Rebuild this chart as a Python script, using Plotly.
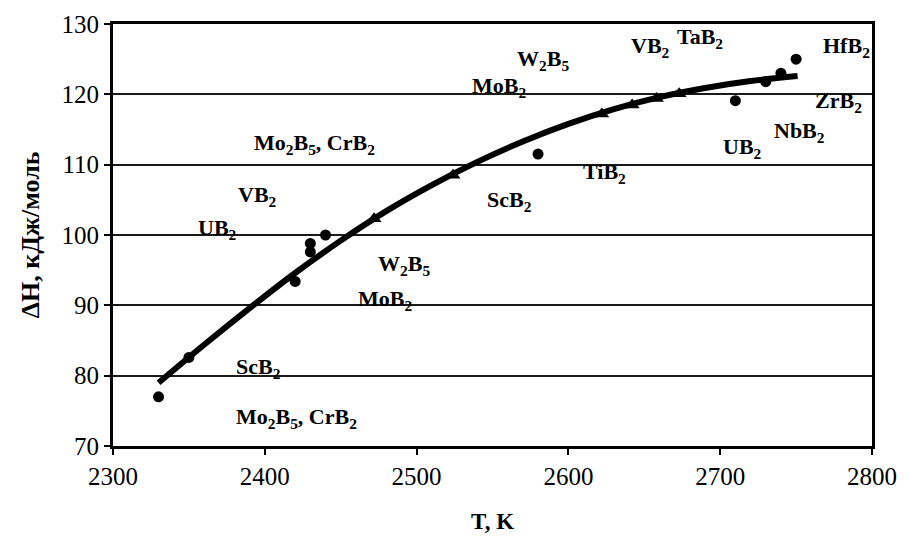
import plotly.graph_objects as go

# measured data points (circles)
t_points = [2330, 2350, 2420, 2430, 2430, 2440, 2580, 2710, 2730, 2740, 2750]
dh_points = [77.0, 82.6, 93.4, 97.6, 98.8, 100.0, 111.5, 119.1, 121.8, 123.0, 125.0]

# calculated points on the curve (triangles)
t_calc = [2472, 2524, 2622, 2642, 2658, 2673]
dh_calc = [102.3, 108.5, 117.2, 118.5, 119.4, 120.1]

# trend curve
t_curve = [2330, 2360, 2390, 2420, 2450, 2480, 2510, 2540, 2570, 2600, 2630, 2660, 2690, 2720, 2751]
dh_curve = [79.0, 84.4, 89.6, 94.6, 99.2, 103.4, 107.1, 110.4, 113.3, 115.8, 117.9, 119.6, 120.9, 121.9, 122.6]

# labels
label_text = ["Mo<sub>2</sub>B<sub>5</sub>, CrB<sub>2</sub>", "VB<sub>2</sub>", "UB<sub>2</sub>",
              "W<sub>2</sub>B<sub>5</sub>", "MoB<sub>2</sub>", "ScB<sub>2</sub>",
              "Mo<sub>2</sub>B<sub>5</sub>, CrB<sub>2</sub>", "ScB<sub>2</sub>", "TiB<sub>2</sub>",
              "W<sub>2</sub>B<sub>5</sub>", "MoB<sub>2</sub>", "VB<sub>2</sub>", "TaB<sub>2</sub>",
              "HfB<sub>2</sub>", "ZrB<sub>2</sub>", "NbB<sub>2</sub>", "UB<sub>2</sub>"]
label_t = [2433, 2395, 2369, 2492, 2479, 2396, 2421, 2561, 2624, 2583, 2554, 2654, 2687, 2783, 2778, 2752, 2715]
label_dh = [112.9, 105.6, 100.9, 95.7, 90.7, 81.1, 74.0, 104.9, 108.8, 124.9, 121.0, 126.7, 128.0, 126.7, 118.9, 114.6, 112.3]

x_ticks = [2300, 2400, 2500, 2600, 2700, 2800]
y_ticks = [70, 80, 90, 100, 110, 120, 130]

FONT = "Liberation Serif, Times New Roman, serif"

fig = go.Figure()
fig.add_trace(go.Scatter(x=t_curve, y=dh_curve, mode="lines",
                         line=dict(color="black", width=6, shape="spline", smoothing=0.6),
                         showlegend=False, hoverinfo="skip"))
fig.add_trace(go.Scatter(x=t_calc, y=dh_calc, mode="markers",
                         marker=dict(symbol="triangle-up", size=13, color="black"),
                         showlegend=False))
fig.add_trace(go.Scatter(x=t_points, y=dh_points, mode="markers",
                         marker=dict(symbol="circle", size=11, color="black"),
                         showlegend=False))

for txt, tx, ty in zip(label_text, label_t, label_dh):
    fig.add_annotation(x=tx, y=ty, text="<b>" + txt + "</b>", showarrow=False,
                       font=dict(family=FONT, size=22, color="black"),
                       xanchor="center", yanchor="middle")

fig.add_annotation(xref="paper", yref="paper", x=-0.109, y=0.5, text="<b>ΔH, кДж/моль</b>",
                   showarrow=False, textangle=-90,
                   font=dict(family=FONT, size=26, color="black"),
                   xanchor="center", yanchor="middle")
fig.add_annotation(xref="paper", yref="paper", x=0.5, y=-0.18, text="<b>T, K</b>",
                   showarrow=False,
                   font=dict(family=FONT, size=23, color="black"),
                   xanchor="center", yanchor="middle")

fig.update_layout(
    width=910, height=536,
    margin=dict(l=105, r=46, t=16, b=98),
    paper_bgcolor="white", plot_bgcolor="white",
    font=dict(family=FONT, size=22, color="black"),
    xaxis=dict(range=[2300, 2800], tickvals=x_ticks, showgrid=False, zeroline=False, automargin=False,
               showline=True, linecolor="black", linewidth=3, mirror=True,
               ticks="outside", ticklen=6, tickwidth=2, tickcolor="black",
               tickfont=dict(family=FONT, size=25, color="black")),
    yaxis=dict(range=[70, 130], tickvals=y_ticks, showgrid=True, gridcolor="#1a1a1a", gridwidth=2,
               zeroline=False, automargin=False, showline=True, linecolor="black", linewidth=3, mirror=True,
               ticks="outside", ticklen=6, tickwidth=2, tickcolor="black",
               tickfont=dict(family=FONT, size=25, color="black")),
)

fig.write_html("out.html")
